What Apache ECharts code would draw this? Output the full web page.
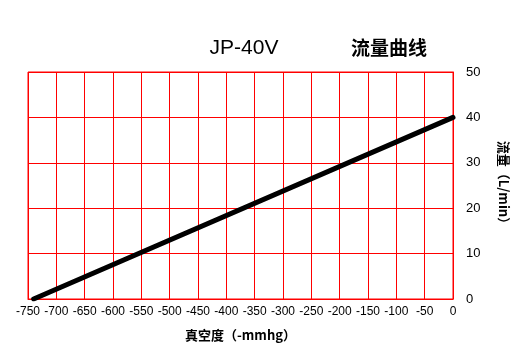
<!DOCTYPE html>
<html>
<head>
<meta charset="utf-8">
<script src="https://cdn.jsdelivr.net/npm/echarts@6/dist/echarts.min.js"></script>
<style>html,body{margin:0;padding:0;background:#fff}#c{width:523px;height:359px}</style>
</head>
<body>
<div id="c"></div>
<script>
const pressure = [-740, 0];
const flow = [0, 40];
const xMin = -750, xMax = 0, xStep = 50;
const yMin = 0, yMax = 50, yStep = 10;
const modelName = 'JP-40V';
const chartTitle = '流量曲线';
const xName = '真空度（-mmhg）';
const yName = '流量（L/min）';

const FONT = '"Liberation Sans","Noto Sans CJK SC",sans-serif';
const chart = echarts.init(document.getElementById('c'));
chart.setOption({
  animation: false,
  backgroundColor: '#fff',
  title: [
    {text: modelName, left: 239, top: 33, textAlign: 'center',
     textStyle: {fontFamily: FONT, fontSize: 21, fontWeight: 'normal', color: '#000'}},
    {text: chartTitle, left: 384, top: 33, textAlign: 'center',
     textStyle: {fontFamily: '"Noto Sans CJK SC",sans-serif', fontSize: 19, fontWeight: 'bold', color: '#000'}}
  ],
  grid: {left: 28, right: 70, top: 72, bottom: 60, show: true, borderColor: '#ff0000', borderWidth: 1},
  xAxis: {
    type: 'value', min: xMin, max: xMax, interval: xStep,
    name: xName, nameLocation: 'middle', nameGap: 30,
    nameTextStyle: {fontFamily: '"Noto Sans CJK SC",sans-serif', fontSize: 13, fontWeight: 'bold', color: '#000'},
    axisLine: {show: true, lineStyle: {color: '#ff0000', width: 1}},
    axisTick: {show: false},
    axisLabel: {margin: 7, fontFamily: FONT, fontSize: 12, color: '#000'},
    splitLine: {show: true, lineStyle: {color: '#ff0000', width: 1}}
  },
  yAxis: {
    type: 'value', position: 'right', min: yMin, max: yMax, interval: yStep,
    name: yName, nameLocation: 'middle', nameRotate: -90, nameGap: 44,
    nameTextStyle: {fontFamily: '"Noto Sans CJK SC",sans-serif', fontSize: 13, fontWeight: 'bold', color: '#000'},
    axisLine: {show: true, lineStyle: {color: '#ff0000', width: 1}},
    axisTick: {show: false},
    axisLabel: {margin: 13, fontFamily: FONT, fontSize: 13, color: '#000'},
    splitLine: {show: true, lineStyle: {color: '#ff0000', width: 1}}
  },
  series: [{
    type: 'line',
    data: pressure.map((p, i) => [p, flow[i]]),
    symbol: 'none',
    lineStyle: {color: '#000', width: 5, cap: 'round'}
  }]
});
</script>
</body>
</html>
